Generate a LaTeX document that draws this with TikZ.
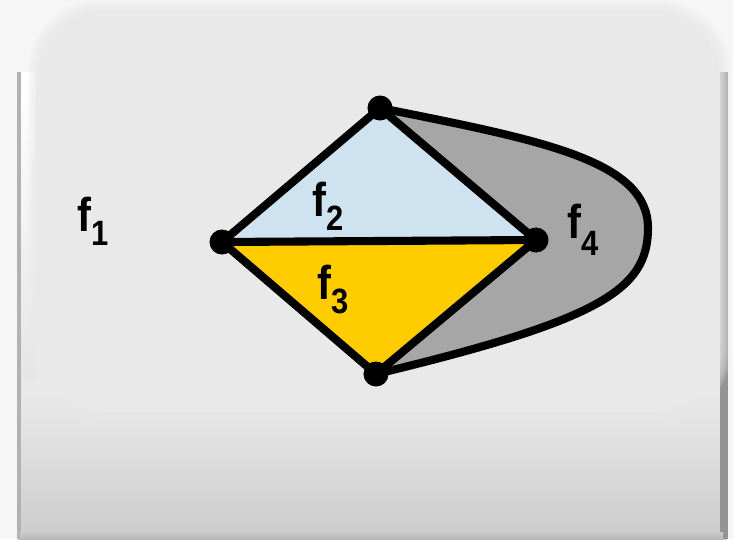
\documentclass[tikz,border=0pt]{standalone}
\usepackage{fontspec}
\setmainfont{Liberation Sans}
\newfontfamily\lblfont[FakeStretch=0.88]{Liberation Sans}
\usetikzlibrary{positioning}
\definecolor{faceblue}{RGB}{207,226,240}
\definecolor{faceyellow}{RGB}{255,204,0}
\definecolor{facegray}{RGB}{166,166,166}
\definecolor{panelgray}{RGB}{233,233,233}
\definecolor{backgray}{RGB}{246,246,246}
\newcommand{\facesub}[2][4pt]{\raisebox{-#1}{\fontsize{10}{11}\selectfont #2}}
\tikzset{
  edge/.style={draw=black, line width=2.3pt, line join=round},
  vtx/.style={circle, fill=black, inner sep=0pt, minimum size=0.25cm},
  facelbl/.style={font=\lblfont\fontsize{13.5}{15}\selectfont\bfseries, inner sep=0pt}
}

\begin{document}
\begin{tikzpicture}[x=0.01cm, y=-0.01cm]
  \useasboundingbox (0,0) rectangle (733,539);
  % background and panel
  \fill[backgray] (0,0) rectangle (733,539);
  \fill[panelgray] (18,72) rectangle (727,395);
  \shade[top color=panelgray, bottom color=black!20] (18,395) rectangle (727,539);
  \shade[top color=white, bottom color=black!10] (20,72) rectangle (36,380);
  \draw[black!30, line width=1pt] (19,72) -- (19,539);
  \draw[black!42, line width=2pt] (724,72) -- (724,539);
  \shade[top color=black!20, bottom color=black!28] (20,532) rectangle (723,539);
  \foreach \d in {10,8,6,4,2}
    \fill[panelgray, opacity=0.22, rounded corners=0.7cm]
      (38-\d,10-\d) rectangle (720+\d,412+\d);
  \fill[panelgray, rounded corners=0.7cm] (38,10) rectangle (720,412);

  % vertices
  \coordinate (t) at (380,108);
  \coordinate (l) at (222,242);
  \coordinate (r) at (536,240);
  \coordinate (b) at (376,374);

  % faces
  \fill[facegray] (t) .. controls (540,140) and (648,160) .. (648,228)
    .. controls (648,290) and (600,320) .. (b) -- (r) -- cycle;
  \fill[faceblue] (t) -- (l) -- (r) -- cycle;
  \fill[faceyellow] (l) -- (r) -- (b) -- cycle;
  \fill[faceyellow] (b) -- (367,366) -- (370,383) -- cycle;

  % edges
  \draw[edge] (t) -- (l) -- (b) -- (r) -- cycle;
  \draw[edge] (l) -- (r);
  \draw[edge] (t) .. controls (540,140) and (648,160) .. (648,228)
    .. controls (648,290) and (600,320) .. (b);

  \node[vtx] (vt) at (t) {};
  \node[vtx] (vl) at (l) {};
  \node[vtx] (vr) at (r) {};
  \node[vtx] (vb) at (b) {};

  % labels
  \node[facelbl, anchor=base west] (f1) at (77,231) {f\facesub{1}};
  \node[facelbl, anchor=base west] (f2) at (312,216) {f\facesub{2}};
  \node[facelbl, anchor=base west] (f3) at (317,299) {f\facesub{3}};
  \node[facelbl, anchor=base west] (f4) at (567,238) {f\facesub[5pt]{4}};
\end{tikzpicture}
\end{document}
